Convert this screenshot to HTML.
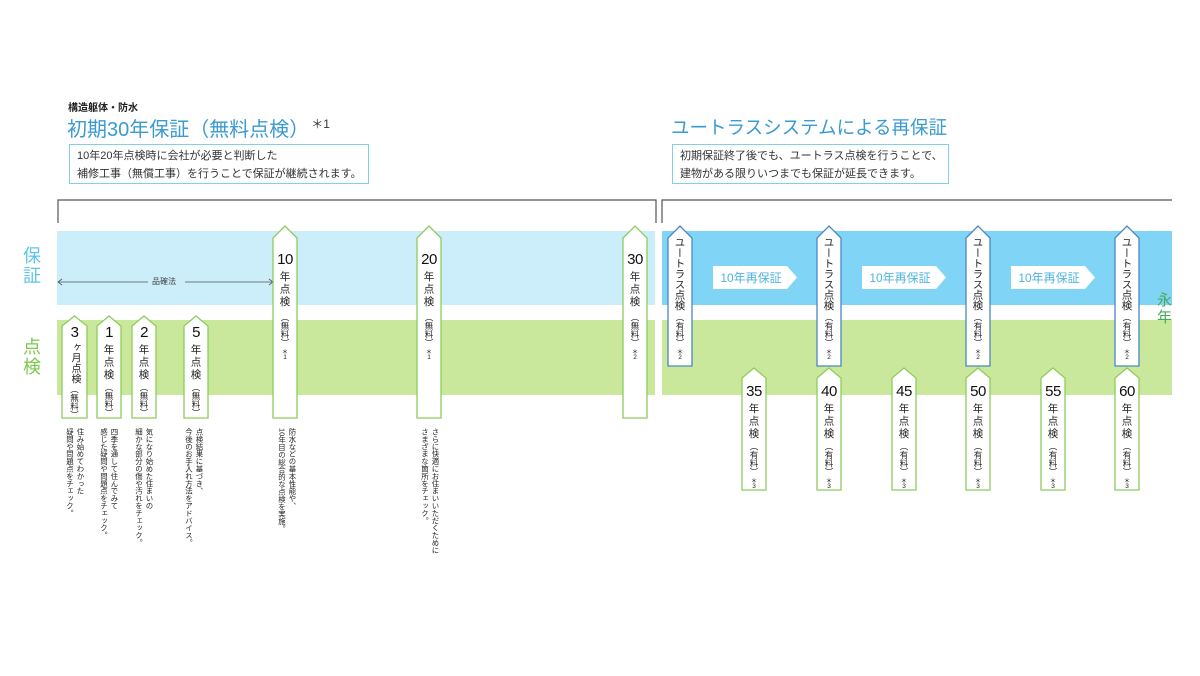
<!DOCTYPE html>
<html><head><meta charset="utf-8">
<style>
body{margin:0;width:1200px;height:676px;background:#fff;position:relative;overflow:hidden;font-family:"Liberation Sans","Noto Sans CJK JP",sans-serif;color:#222}
.a{position:absolute}
.mk{position:absolute;display:flex;flex-direction:column;align-items:center;width:24px}
.num{font-size:15px;line-height:16px;color:#111;letter-spacing:-0.5px}
.vt{writing-mode:vertical-rl;font-size:10.5px;letter-spacing:2px;color:#222;margin-top:3px}
.vs{writing-mode:vertical-rl;font-size:8.5px;letter-spacing:0;color:#222;margin-top:1px}
.ast{font-size:6.5px;line-height:5px;color:#222;margin-top:3px;text-align:center}
.desc{position:absolute;writing-mode:vertical-rl;font-size:7.4px;line-height:10.5px;color:#222;top:428px;white-space:nowrap}
</style></head><body>
<svg class="a" style="left:0;top:0" width="1200" height="676">
<polyline points="58,223 58,200 656,200 656,223" fill="none" stroke="#555" stroke-width="1.2"/>
<polyline points="662,223 662,200 1172,200" fill="none" stroke="#555" stroke-width="1.2"/>
<rect x="57" y="231" width="598" height="74" fill="#cbeefa"/>
<rect x="57" y="320" width="598" height="75" fill="#c9e89b"/>
<rect x="662" y="231" width="510" height="74" fill="#80d4f6"/>
<rect x="662" y="320" width="510" height="75" fill="#c9e89b"/>
<line x1="58" y1="282" x2="148" y2="282" stroke="#555" stroke-width="0.8"/>
<line x1="185" y1="282" x2="273" y2="282" stroke="#555" stroke-width="0.8"/>
<polyline points="62,279 58,282 62,285" fill="none" stroke="#555" stroke-width="0.8"/>
<polyline points="269,279 273,282 269,285" fill="none" stroke="#555" stroke-width="0.8"/>
<polygon points="713,266 787,266 797,277.5 787,289 713,289" fill="#fff"/>
<polygon points="862,266 936,266 946,277.5 936,289 862,289" fill="#fff"/>
<polygon points="1011,266 1085,266 1095,277.5 1085,289 1011,289" fill="#fff"/>
<g fill="#fff" stroke="#8ccc5e" stroke-width="1.3">
<polygon points="62,418 62,326 74.5,316 87,326 87,418"/>
<polygon points="97,418 97,326 109,316 121,326 121,418"/>
<polygon points="132,418 132,326 144,316 156,326 156,418"/>
<polygon points="184,418 184,326 196,316 208,326 208,418"/>
<polygon points="273,418 273,238 285,226 297,238 297,418"/>
<polygon points="417,418 417,238 429,226 441,238 441,418"/>
<polygon points="623,418 623,238 635,226 647,238 647,418"/>
<polygon points="742,490 742,378 754,368 766,378 766,490"/>
<polygon points="817,490 817,378 829,368 841,378 841,490"/>
<polygon points="892,490 892,378 904,368 916,378 916,490"/>
<polygon points="966,490 966,378 978,368 990,378 990,490"/>
<polygon points="1041,490 1041,378 1053,368 1065,378 1065,490"/>
<polygon points="1115,490 1115,378 1127,368 1139,378 1139,490"/>
</g>
<g fill="#fff" stroke="#4a86c4" stroke-width="1.3">
<polygon points="668,366 668,238 680,226 692,238 692,366"/>
<polygon points="817,366 817,238 829,226 841,238 841,366"/>
<polygon points="966,366 966,238 978,226 990,238 990,366"/>
<polygon points="1115,366 1115,238 1127,226 1139,238 1139,366"/>
</g>
</svg>

<div class="a" style="left:68px;top:99px;font-size:10px;font-weight:bold;color:#222">構造躯体・防水</div>
<div class="a" style="left:67px;top:113px;font-size:20px;color:#3a9ad2;white-space:nowrap">初期30年保証（無料点検）<span style="font-size:12px;color:#333;vertical-align:8px;margin-left:2px">＊1</span></div>
<div class="a" style="left:69px;top:144px;width:300px;height:40px;border:1px solid #82cfe8;font-size:11px;line-height:18px;padding:2px 0 0 7px;box-sizing:border-box;color:#333;white-space:nowrap">10年20年点検時に会社が必要と判断した<br>補修工事（無償工事）を行うことで保証が継続されます。</div>
<div class="a" style="left:671px;top:114px;font-size:18.5px;color:#3a9ad2;white-space:nowrap">ユートラスシステムによる再保証</div>
<div class="a" style="left:672px;top:144px;width:277px;height:40px;border:1px solid #82cfe8;font-size:11px;line-height:18px;padding:2px 0 0 7px;box-sizing:border-box;color:#333;white-space:nowrap">初期保証終了後でも、ユートラス点検を行うことで、<br>建物がある限りいつまでも保証が延長できます。</div>

<div class="a" style="left:23px;top:246px;font-size:18px;line-height:20px;color:#5cc4ea;width:20px">保<br>証</div>
<div class="a" style="left:23px;top:337px;font-size:18px;line-height:20px;color:#7cc84c;width:20px">点<br>検</div>
<div class="a" style="left:1157px;top:292px;font-size:15px;line-height:17px;color:#4aa85a;width:16px">永<br>年</div>
<div class="a" style="left:150px;top:276px;font-size:8px;color:#444;background:#cbeefa;padding:0 2px">品確法</div>

<div class="a" style="left:713px;top:269px;width:76px;text-align:center;font-size:12px;color:#4fb4e0;white-space:nowrap">10年再保証</div>
<div class="a" style="left:862px;top:269px;width:76px;text-align:center;font-size:12px;color:#4fb4e0;white-space:nowrap">10年再保証</div>
<div class="a" style="left:1011px;top:269px;width:76px;text-align:center;font-size:12px;color:#4fb4e0;white-space:nowrap">10年再保証</div>

<div class="mk" style="left:62.5px;top:325px"><div class="num">3</div><div class="vt" style="margin-top:1px;letter-spacing:0.5px;font-size:10px">ヶ月点検</div><div class="vs">（無料）</div></div>
<div class="mk" style="left:97px;top:325px"><div class="num">1</div><div class="vt">年点検</div><div class="vs">（無料）</div></div>
<div class="mk" style="left:132px;top:325px"><div class="num">2</div><div class="vt">年点検</div><div class="vs">（無料）</div></div>
<div class="mk" style="left:184px;top:325px"><div class="num">5</div><div class="vt">年点検</div><div class="vs">（無料）</div></div>
<div class="mk" style="left:273px;top:252px"><div class="num">10</div><div class="vt">年点検</div><div class="vs" style="margin-top:4px">（無料）</div><div class="ast">＊<br>1</div></div>
<div class="mk" style="left:417px;top:252px"><div class="num">20</div><div class="vt">年点検</div><div class="vs" style="margin-top:4px">（無料）</div><div class="ast">＊<br>1</div></div>
<div class="mk" style="left:623px;top:252px"><div class="num">30</div><div class="vt">年点検</div><div class="vs" style="margin-top:4px">（無料）</div><div class="ast">＊<br>2</div></div>

<div class="mk" style="left:668px;top:237px"><div class="vt" style="margin-top:0;letter-spacing:0;font-size:10.5px">ユートラス点検</div><div class="vs" style="margin-top:2px">（有料）</div><div class="ast">＊<br>2</div></div>
<div class="mk" style="left:817px;top:237px"><div class="vt" style="margin-top:0;letter-spacing:0;font-size:10.5px">ユートラス点検</div><div class="vs" style="margin-top:2px">（有料）</div><div class="ast">＊<br>2</div></div>
<div class="mk" style="left:966px;top:237px"><div class="vt" style="margin-top:0;letter-spacing:0;font-size:10.5px">ユートラス点検</div><div class="vs" style="margin-top:2px">（有料）</div><div class="ast">＊<br>2</div></div>
<div class="mk" style="left:1115px;top:237px"><div class="vt" style="margin-top:0;letter-spacing:0;font-size:10.5px">ユートラス点検</div><div class="vs" style="margin-top:2px">（有料）</div><div class="ast">＊<br>2</div></div>

<div class="mk" style="left:742px;top:384px"><div class="num">35</div><div class="vt">年点検</div><div class="vs">（有料）</div><div class="ast">＊<br>3</div></div>
<div class="mk" style="left:817px;top:384px"><div class="num">40</div><div class="vt">年点検</div><div class="vs">（有料）</div><div class="ast">＊<br>3</div></div>
<div class="mk" style="left:892px;top:384px"><div class="num">45</div><div class="vt">年点検</div><div class="vs">（有料）</div><div class="ast">＊<br>3</div></div>
<div class="mk" style="left:966px;top:384px"><div class="num">50</div><div class="vt">年点検</div><div class="vs">（有料）</div><div class="ast">＊<br>3</div></div>
<div class="mk" style="left:1041px;top:384px"><div class="num">55</div><div class="vt">年点検</div><div class="vs">（有料）</div><div class="ast">＊<br>3</div></div>
<div class="mk" style="left:1115px;top:384px"><div class="num">60</div><div class="vt">年点検</div><div class="vs">（有料）</div><div class="ast">＊<br>3</div></div>

<div class="desc" style="left:64px">住み始めてわかった<br>疑問や問題点をチェック。</div>
<div class="desc" style="left:98px">四季を通して住んでみて<br>感じた疑問や問題点をチェック。</div>
<div class="desc" style="left:133px">気になり始めた住まいの<br>細かな部分の傷や汚れをチェック。</div>
<div class="desc" style="left:183px">点検結果に基づき、<br>今後のお手入れ方法をアドバイス。</div>
<div class="desc" style="left:276px">防水などの基本性能や、<br>10年目の総合的な点検を実施。</div>
<div class="desc" style="left:419px">さらに快適にお住まいいただくために<br>さまざまな箇所をチェック。</div>
</body></html>
